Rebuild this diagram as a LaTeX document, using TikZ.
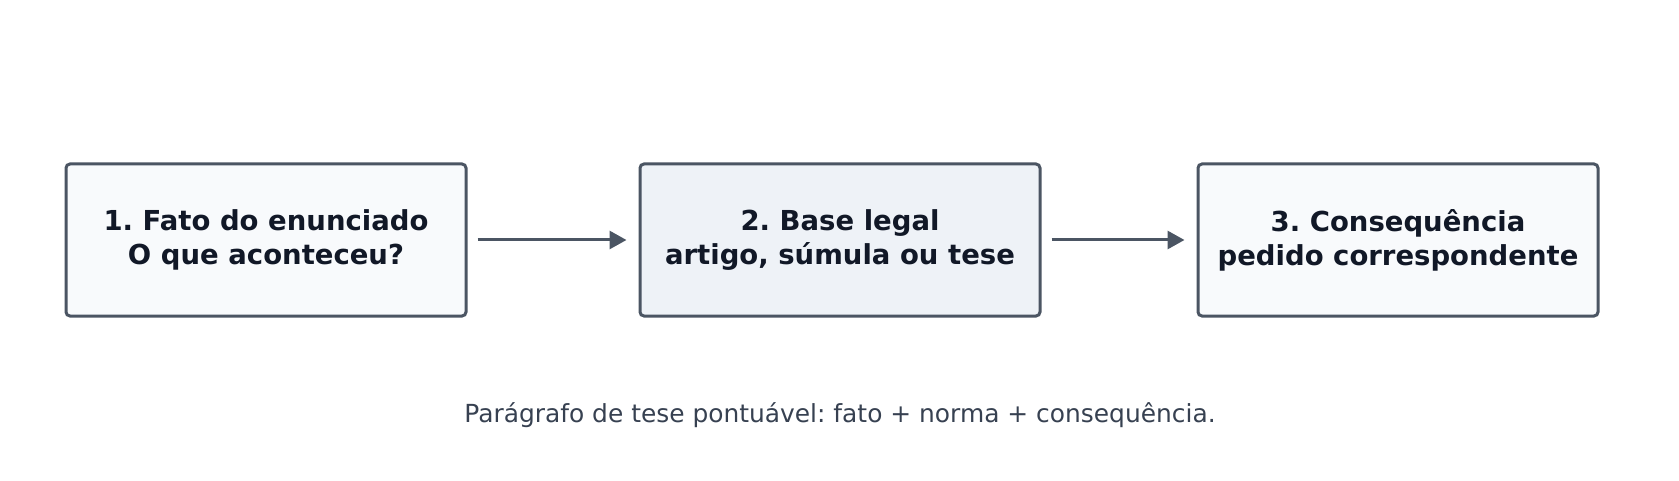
\documentclass[tikz,border=0pt]{standalone}
\usepackage{fontspec}
\setmainfont{DejaVu Sans}
\usetikzlibrary{arrows.meta}
\definecolor{bordc}{HTML}{4B5563}
\definecolor{fillA}{HTML}{F8FAFC}
\definecolor{fillB}{HTML}{EEF2F7}
\definecolor{textc}{HTML}{111827}
\definecolor{capc}{HTML}{374151}
\frenchspacing
\tikzset{
  stepbox/.style={draw=bordc, line width=3pt, rounded corners=4pt,
    minimum width=400pt, minimum height=152pt, inner sep=0pt,
    align=center, text=textc,
    font=\fontsize{27.5pt}{34pt}\selectfont\bfseries},
  conn/.style={draw=bordc, line width=3pt,
    -{Triangle[length=17pt,width=18pt]}, shorten <=10pt, shorten >=12pt}
}
\begin{document}
\begin{tikzpicture}[x=1pt,y=1pt]
\useasboundingbox (0,0) rectangle (1679,480);
\node[stepbox, fill=fillA] (b1) at (266,240) {1. Fato do enunciado\\O que aconteceu?};
\node[stepbox, fill=fillB] (b2) at (840,240) {2. Base legal\\artigo, súmula ou tese};
\node[stepbox, fill=fillA] (b3) at (1398,240) {3. Consequência\\pedido correspondente};
\draw[conn] (b1) -- (b2);
\draw[conn] (b2) -- (b3);
\node[text=capc, font=\fontsize{24.9pt}{30pt}\selectfont, inner sep=0pt] (cap) at (840,65) {Parágrafo de tese pontuável: fato + norma + consequência.};
\end{tikzpicture}
\end{document}
